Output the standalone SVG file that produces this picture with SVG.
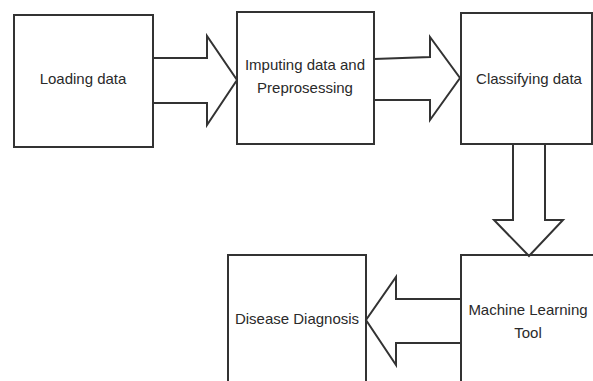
<svg xmlns="http://www.w3.org/2000/svg" width="593" height="381" viewBox="0 0 593 381">
<style>
.box{fill:#fff;stroke:#333;stroke-width:2}
.arr{fill:none;stroke:#333;stroke-width:2;stroke-linejoin:miter}
text{font-family:"Liberation Sans",Arial,sans-serif;font-size:15px;fill:#2a2a2a;text-anchor:middle}
</style>
<rect width="593" height="381" fill="#fff"/>
<g id="n-loading"><rect class="box" x="14" y="15" width="139" height="132"/><text x="83" y="84">Loading data</text></g>
<g id="n-imputing"><rect class="box" x="237" y="12" width="137" height="132"/><text x="305" y="70">Imputing data and</text><text x="305" y="93">Preprosessing</text></g>
<g id="n-classifying"><rect class="box" x="461" y="13" width="131" height="131"/><text x="529" y="84">Classifying data</text></g>
<g id="n-ml"><rect class="box" x="461" y="255" width="140" height="140"/><text x="528" y="315">Machine Learning</text><text x="528" y="338">Tool</text></g>
<g id="n-disease"><rect class="box" x="228" y="255" width="138" height="140"/><text x="297" y="324">Disease Diagnosis</text></g>
<g id="connectors">
<path class="arr" d="M153,58 L207,58 L207,36 L237,80 L207,125 L207,103 L153,103"/>
<path class="arr" d="M374,59 L430,57 L430,37 L460,78 L430,120 L430,100 L374,100"/>
<path class="arr" d="M513,144 L513,220 L494,220 L529,256 L563,220 L545,220 L545,144"/>
<path class="arr" d="M461,299 L396,299 L396,277 L366,320 L396,365 L396,343 L461,343"/>
</g>
</svg>
